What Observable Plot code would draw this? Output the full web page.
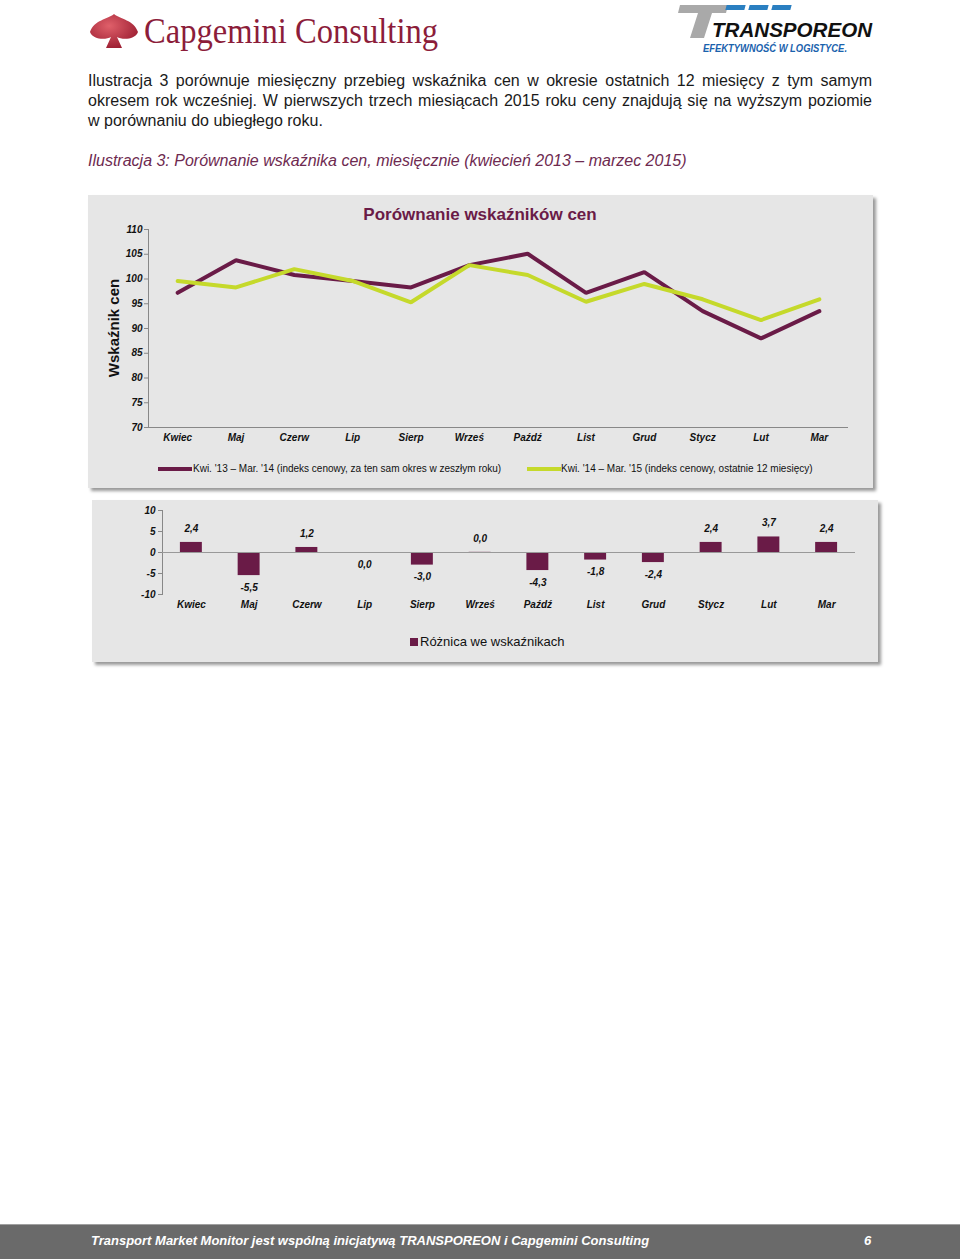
<!DOCTYPE html>
<html><head><meta charset="utf-8">
<script src="https://cdn.jsdelivr.net/npm/d3@7"></script>
<script src="https://cdn.jsdelivr.net/npm/@observablehq/plot@0.6"></script>
<style>
  body{margin:0;background:#fff;font-family:"Liberation Sans",Arial,sans-serif;}
  #page{position:relative;width:960px;height:1260px;overflow:hidden;background:#fff;}
  .abs{position:absolute;}
  .pl{left:88px;width:784px;font-size:16px;line-height:20px;color:#1a1a1a;white-space:nowrap;}
  .just{text-align:justify;text-align-last:justify;}
  #caption{left:88px;top:151px;font-size:16px;line-height:20px;font-style:italic;color:#6e2a50;white-space:nowrap;}
  .box{background:#e6e6e6;box-shadow:3px 3px 3px #9a9a9a;}
  #box1{left:88px;top:195px;width:785px;height:293px;}
  #box2{left:92px;top:500px;width:786px;height:162px;}
  #title1{left:280px;width:400px;top:205px;text-align:center;font-size:17px;font-weight:bold;color:#6a1b47;}
  #ylab{left:113px;top:328px;transform:translate(-50%,-50%) rotate(-90deg);font-size:15px;font-weight:bold;white-space:nowrap;color:#111;}
  .leg{font-size:10px;color:#111;white-space:nowrap;}
  .legline{height:4px;width:34px;}
  #footer{left:0;top:1224px;width:960px;height:34px;background:#6a6a6a;border-top:1px solid #a0a0a0;}
  #foottext{left:91px;top:1233px;font-size:13px;font-weight:bold;font-style:italic;color:#fff;white-space:nowrap;}
  #footnum{left:864px;top:1233px;font-size:13px;font-weight:bold;font-style:italic;color:#fff;}
</style></head>
<body>
<div id="page">
  <!-- Capgemini logo -->
  <svg class="abs" style="left:88px;top:2px" width="380" height="58">
    <defs><radialGradient id="rg" cx="0.4" cy="0.35" r="0.7"><stop offset="0" stop-color="#e0606a"/><stop offset="1" stop-color="#9a1c30"/></radialGradient></defs>
    <path d="M2 30 C6 18,20 17,26 12 C32 17,46 18,50 30 C47 38,34 38,29 35 L34 46 L18 46 L23 35 C18 38,5 38,2 30 Z" fill="url(#rg)"/>
    <text x="56" y="41" font-family="Liberation Serif, serif" font-size="36" fill="#8c1d3a" textLength="294" lengthAdjust="spacingAndGlyphs">Capgemini Consulting</text>
  </svg>
  <!-- Transporeon logo -->
  <svg class="abs" style="left:676px;top:0px" width="212" height="58">
    <polygon points="4,5 52,5 50,13 36,13 28,38 14,38 22,13 2,13" fill="#a9a9a9"/>
    <g transform="skewX(-15)">
      <rect x="52" y="5" width="19" height="5" fill="#2a7fc1"/>
      <rect x="75" y="5" width="19" height="5" fill="#2a7fc1"/>
      <rect x="98" y="5" width="19" height="5" fill="#2a7fc1"/>
    </g>
    <text x="36" y="37" font-family="Liberation Sans, Arial" font-weight="bold" font-style="italic" font-size="20" fill="#111" textLength="160" lengthAdjust="spacingAndGlyphs">TRANSPOREON</text>
    <text x="27" y="52" font-family="Liberation Sans, Arial" font-weight="bold" font-style="italic" font-size="10" fill="#1a62ad" textLength="144" lengthAdjust="spacingAndGlyphs">EFEKTYWNOŚĆ  W LOGISTYCE.</text>
  </svg>

  <div class="abs pl just" style="top:71px">Ilustracja 3 porównuje miesięczny przebieg wskaźnika cen w okresie ostatnich 12 miesięcy z tym samym</div>
  <div class="abs pl just" style="top:91px">okresem rok wcześniej. W pierwszych trzech miesiącach 2015 roku ceny znajdują się na wyższym poziomie</div>
  <div class="abs pl" style="top:111px">w porównaniu do ubiegłego roku.</div>
  <div id="caption" class="abs">Ilustracja 3: Porównanie wskaźnika cen, miesięcznie (kwiecień 2013 – marzec 2015)</div>

  <div id="box1" class="abs box"></div>
  <div id="box2" class="abs box"></div>
  <div id="title1" class="abs">Porównanie wskaźników cen</div>
  <div id="ylab" class="abs">Wskaźnik cen</div>
  <div id="chart1" class="abs" style="left:88px;top:195px"></div>
  <div id="chart2" class="abs" style="left:92px;top:500px"></div>

  <div class="abs legline" id="ll1" style="left:158px;top:467px"></div>
  <div class="abs leg" id="lt1" style="left:193px;top:463px"></div>
  <div class="abs legline" id="ll2" style="left:527px;top:467px"></div>
  <div class="abs leg" id="lt2" style="left:561px;top:463px"></div>

  <div class="abs" id="lsq" style="left:410px;top:638px;width:8px;height:8px"></div>
  <div class="abs" id="lt3" style="left:420px;top:634px;font-size:13px;color:#111;white-space:nowrap"></div>

  <div id="footer" class="abs"></div>
  <div id="foottext" class="abs">Transport Market Monitor jest wspólną inicjatywą TRANSPOREON i Capgemini Consulting</div>
  <div id="footnum" class="abs">6</div>
</div>
<script>
// ---- data ----
const months = ["Kwiec","Maj","Czerw","Lip","Sierp","Wrześ","Paźdź","List","Grud","Stycz","Lut","Mar"];
const prevYear = [97.2, 103.8, 100.8, 99.6, 98.3, 102.8, 105.1, 97.2, 101.4, 93.5, 88.0, 93.5];   // Kwi '13 – Mar '14
const lastYear = [99.6, 98.3, 102.0, 99.6, 95.3, 102.8, 100.8, 95.4, 99.0, 95.9, 91.7, 95.9];   // Kwi '14 – Mar '15
const diffs    = [2.4, -5.5, 1.2, -0.04, -3.0, 0.04, -4.3, -1.8, -2.4, 2.4, 3.7, 2.4];
const seriesNames = ["Kwi. '13 – Mar. '14 (indeks cenowy, za ten sam okres w zeszłym roku)",
                     "Kwi. '14 – Mar. '15 (indeks cenowy, ostatnie 12 miesięcy)"];
const diffName = "Różnica we wskaźnikach";
const yTicks1 = [70,75,80,85,90,95,100,105,110];
const yTicks2 = [-10,-5,0,5,10];

const colors = ["#6a1b47", "#c5d92b"];
const barColor = "#6a1b47";

const lineData = [];
months.forEach((m,i)=>{
  lineData.push({month:m, value:prevYear[i], series:seriesNames[0]});
  lineData.push({month:m, value:lastYear[i], series:seriesNames[1]});
});
const barData = months.map((m,i)=>({month:m, diff:diffs[i]}));
const fmt = v => { const s = Math.abs(v).toFixed(1); return (v < 0 && s !== "0.0" ? "-" : "") + s.replace(".", ","); };
const tickFmt = d => String(d);

const axisFont = {fontWeight:"bold", fontStyle:"italic", fontSize:10};

const chart1 = Plot.plot({
  width:785, height:260,
  marginLeft:60, marginRight:25, marginTop:34, marginBottom:28,
  style:{background:"transparent", fontFamily:"Liberation Sans, Arial, sans-serif", fontSize:"10px", color:"#111"},
  x:{type:"point", domain:months, padding:0.5, round:false, label:null},
  y:{domain:[70,110], label:null},
  color:{domain:seriesNames, range:colors},
  marks:[
    Plot.frame({anchor:"left", stroke:"#888"}),
    Plot.ruleY([70], {stroke:"#888"}),
    Plot.axisY({ticks:yTicks1, tickFormat:tickFmt, tickSize:4, tickPadding:2, stroke:"#888", ...axisFont, fill:"#111", label:null}),
    Plot.axisX({tickSize:0, tickPadding:6, ...axisFont, fill:"#111", label:null}),
    Plot.line(lineData, {x:"month", y:"value", z:"series", stroke:"series", strokeWidth:4, strokeLinejoin:"miter"})
  ]
});
document.getElementById("chart1").appendChild(chart1);

const chart2 = Plot.plot({
  width:786, height:120,
  marginLeft:70, marginRight:23, marginTop:10, marginBottom:26,
  style:{background:"transparent", fontFamily:"Liberation Sans, Arial, sans-serif", fontSize:"10px", color:"#111"},
  x:{type:"band", domain:months, paddingInner:0.62, paddingOuter:0.31, round:false, label:null},
  y:{domain:[-10,10], label:null},
  marks:[
    Plot.frame({anchor:"left", stroke:"#888"}),
    Plot.axisY({ticks:yTicks2, tickFormat:tickFmt, tickSize:4, tickPadding:3, stroke:"#888", ...axisFont, fill:"#111", label:null}),
    Plot.axisX({tickSize:0, tickPadding:6, ...axisFont, fill:"#111", label:null}),
    Plot.barY(barData, {x:"month", y:"diff", fill:barColor}),
    Plot.ruleY([0], {stroke:"#999"}),
    Plot.text(barData.filter(d=>d.diff>=0), {x:"month", y:"diff", text:d=>fmt(d.diff), dy:-14, ...axisFont, fill:"#111"}),
    Plot.text(barData.filter(d=>d.diff<0), {x:"month", y:"diff", text:d=>fmt(d.diff), dy:12, ...axisFont, fill:"#111"})
  ]
});
document.getElementById("chart2").appendChild(chart2);

// legends
document.getElementById("ll1").style.background = colors[0];
document.getElementById("ll2").style.background = colors[1];
document.getElementById("lt1").textContent = seriesNames[0];
document.getElementById("lt2").textContent = seriesNames[1];
document.getElementById("lsq").style.background = barColor;
document.getElementById("lt3").textContent = diffName;
</script>
</body></html>
